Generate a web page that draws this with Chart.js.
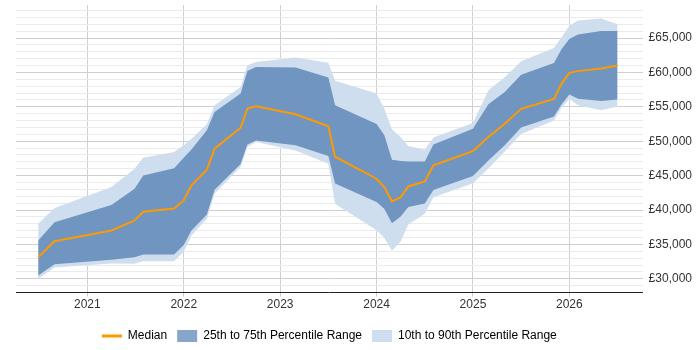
<!DOCTYPE html>
<html>
<head>
<meta charset="utf-8">
<script src="https://cdn.jsdelivr.net/npm/chart.js@4/dist/chart.umd.min.js"></script>
<style>
  body { margin: 0; background: #fff; }
</style>
</head>
<body>
<canvas id="salaryChart" width="700" height="350"></canvas>
<script>
// Fechas como año decimal (cada punto de la serie)
const dates = [2020.49, 2020.66, 2021.25, 2021.49, 2021.58, 2021.90, 2022.00, 2022.08, 2022.24, 2022.32,
    2022.59, 2022.66, 2022.75, 2023.16, 2023.50, 2023.57, 2024.00, 2024.08, 2024.16, 2024.25,
    2024.33, 2024.50, 2024.59, 2025.00, 2025.16, 2025.33, 2025.50, 2025.84, 2025.92, 2026.00,
    2026.09, 2026.33, 2026.50];

// Percentiles del salario (£)
const median = [33140, 35460, 37030, 38480, 39750, 40230, 41390, 43580, 45860, 48920,
    51970, 54740, 55070, 53910, 52160, 47750, 44550, 43330, 41250, 41870,
    43430, 44160, 46490, 48570, 50630, 52550, 54710, 56160, 58370, 59940,
    60190, 60570, 61010];
const p75 = [35570, 38240, 40740, 43100, 45030, 46090, 47600, 48810, 51580, 54240,
    56920, 60210, 60790, 60700, 59250, 55220, 52520, 50900, 47310, 47110,
    47070, 47070, 49510, 51830, 55360, 57150, 59650, 61370, 63390, 64850,
    65520, 66030, 66030];
const p25 = [30480, 32120, 32760, 33140, 33540, 33540, 34920, 37030, 39360, 42950,
    46700, 49540, 50120, 49400, 47870, 43870, 41150, 40190, 38090, 39060,
    40450, 40960, 42920, 44930, 47210, 49400, 52010, 53610, 55360, 56790,
    56190, 55840, 56060];
const p90 = [38000, 40300, 43330, 46000, 47600, 48420, 49400, 50370, 52450, 55220,
    57880, 61040, 61520, 62160, 61400, 58780, 56920, 54740, 51750, 50600,
    49320, 48770, 50560, 52640, 57400, 59290, 61620, 63540, 65110, 66780,
    67540, 67830, 67000];
const p10 = [30000, 31640, 32230, 32180, 32560, 32560, 33970, 36300, 38730, 42370,
    46300, 49150, 49900, 48670, 46730, 40910, 37070, 35970, 34070, 35430,
    37900, 39460, 41870, 43910, 46050, 48520, 51040, 53030, 54920, 56120,
    55220, 54490, 55030];

// Ejes
const yearTicks = [2021, 2022, 2023, 2024, 2025, 2026];
const labels = ["Median", "25th to 75th Percentile Range", "10th to 90th Percentile Range"];

// Colores
const orange = "#ff9900";
const darkBand = "rgba(15, 75, 145, 0.5)";
const lightBand = "#cfdeee";
const font = { family: "'Liberation Sans', Arial, sans-serif", size: 12 };

const toPoints = (values) => values.map((v, i) => ({ x: dates[i], y: v }));

const line = (values, extra) => Object.assign({
    data: toPoints(values),
    pointRadius: 0,
    borderWidth: 0,
    borderColor: "transparent",
    tension: 0,
    fill: false,
}, extra);

// Centra la leyenda bajo el área del gráfico (no bajo todo el canvas)
const centreLegend = {
    id: "centreLegend",
    afterLayout: (chart) => {
        chart.legend.left = chart.chartArea.left;
        chart.legend.right = chart.chartArea.right;
    },
};

const ctx = document.getElementById("salaryChart").getContext("2d");

new Chart(ctx, {
    type: "line",
    plugins: [centreLegend],
    data: {
        datasets: [
            line(median, { label: labels[0], borderColor: orange, borderWidth: 2 }),
            line(p75, { label: labels[1], backgroundColor: darkBand, fill: 2 }),
            line(p25, { label: "p25" }),
            line(p90, { label: labels[2], backgroundColor: lightBand, fill: 4 }),
            line(p10, { label: "p10" }),
        ],
    },
    options: {
        responsive: false,
        animation: false,
        layout: { padding: { left: 16, right: 2, top: 5, bottom: -2 } },
        plugins: {
            tooltip: { enabled: false },
            legend: {
                position: "bottom",
                labels: {
                    usePointStyle: true,
                    pointStyleWidth: 20,
                    boxHeight: 12,
                    padding: 10,
                    color: "#333",
                    font: font,
                    generateLabels: () => [
                        { text: labels[0], fillStyle: orange, strokeStyle: orange, lineWidth: 3, pointStyle: "line", datasetIndex: 0 },
                        { text: labels[1], fillStyle: "#87a5c8", strokeStyle: "transparent", lineWidth: 0, pointStyle: "rect", datasetIndex: 1 },
                        { text: labels[2], fillStyle: lightBand, strokeStyle: "transparent", lineWidth: 0, pointStyle: "rect", datasetIndex: 3 },
                    ],
                },
            },
        },
        scales: {
            x: {
                type: "linear",
                min: 2020.26,
                max: 2026.76,
                afterBuildTicks: (axis) => {
                    axis.ticks = yearTicks.map((v) => ({ value: v }));
                },
                afterFit: (axis) => {
                    axis.height += 7;
                },
                ticks: {
                    color: "#333",
                    padding: 1,
                    maxRotation: 0,
                    font: font,
                    callback: (v) => String(v),
                },
                grid: { color: "#d0d0d0", drawTicks: true, tickLength: 4 },
                border: { color: "#222", width: 1 },
            },
            y: {
                position: "right",
                min: 28000,
                max: 69800,
                afterBuildTicks: (axis) => {
                    const t = [];
                    for (let v = 28000; v <= 69000; v += 1000) t.push({ value: v });
                    axis.ticks = t;
                },
                afterFit: (axis) => {
                    axis.paddingTop = 0;
                    axis.paddingBottom = 0;
                },
                ticks: {
                    color: "#333",
                    padding: 6,
                    autoSkip: false,
                    font: font,
                    callback: (v) => (v % 5000 === 0 ? "£" + v.toLocaleString("en-GB") : ""),
                },
                grid: {
                    drawTicks: false,
                    color: (c) => (c.tick && c.tick.value % 5000 === 0 ? "#cfcfcf" : "#ebebeb"),
                },
                border: { display: false },
            },
        },
    },
});
</script>
</body>
</html>
